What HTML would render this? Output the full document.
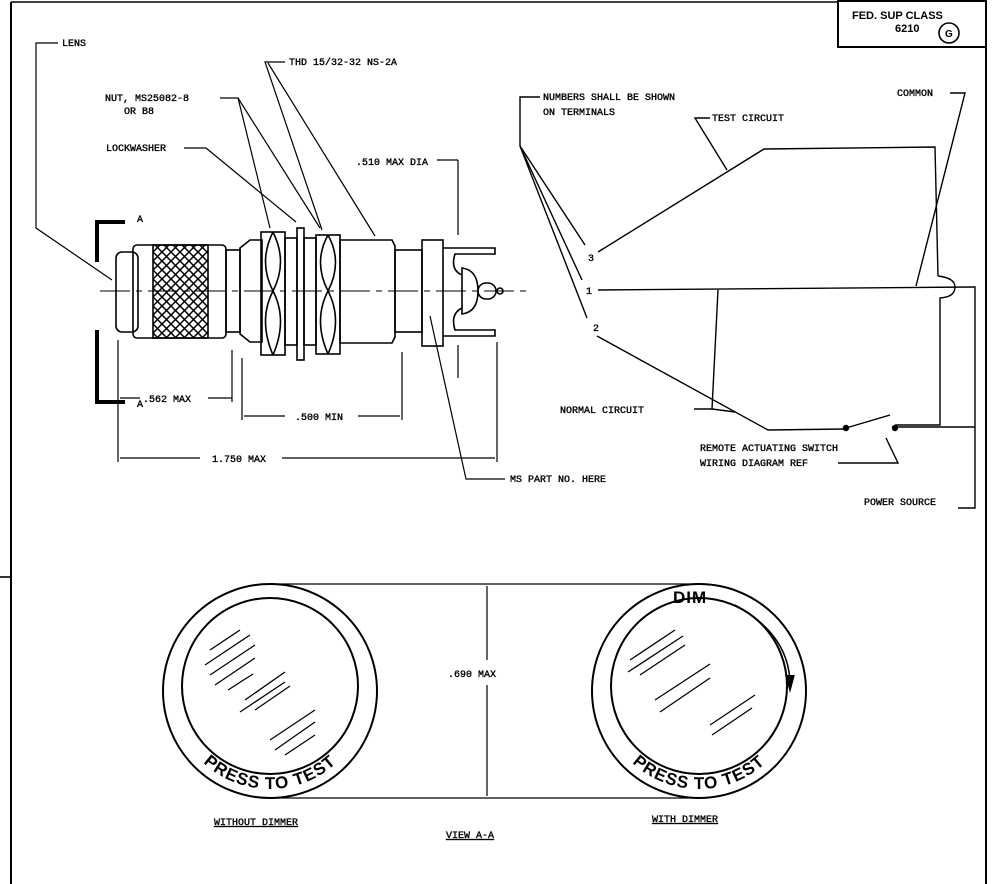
<!DOCTYPE html>
<html><head><style>
html,body{margin:0;padding:0;background:#fff}
svg{display:block}
text{font-family:"Liberation Mono",monospace;font-size:10px;fill:#000;stroke:#000;stroke-width:0.35}
.s{font-family:"Liberation Sans",sans-serif;font-size:17px;font-weight:bold;letter-spacing:1px;stroke:none}
</style></head><body>
<svg width="998" height="884" viewBox="0 0 998 884" xmlns="http://www.w3.org/2000/svg" fill="none" stroke="#000" stroke-width="1.6">
<defs>
<pattern id="knurl" width="9" height="9" patternUnits="userSpaceOnUse">
<path d="M0 0 L9 9 M9 0 L0 9" stroke="#000" stroke-width="1.5"/></pattern>
<path id="arcL" d="M172 691 A98 98 0 0 0 368 691"/>
<path id="arcR" d="M601 691 A98 98 0 0 0 797 691"/>
</defs>
<line x1="11" y1="2" x2="11" y2="884" stroke-width="2"/>
<line x1="11" y1="2" x2="838" y2="2" stroke-width="1.5"/>
<rect x="838" y="1" width="148" height="46" stroke-width="2"/>
<line x1="986" y1="47" x2="986" y2="884" stroke-width="2"/>
<text x="852" y="19" style="font-family:'Liberation Sans',sans-serif;font-size:11px;font-weight:bold;stroke:none">FED. SUP CLASS</text>
<text x="895" y="32" style="font-family:'Liberation Sans',sans-serif;font-size:11px;font-weight:bold;stroke:none">6210</text>
<circle cx="949" cy="33" r="10"/>
<text x="945" y="37" style="font-family:'Liberation Sans',sans-serif;font-size:10px;font-weight:bold;stroke:none">G</text>
<line x1="0" y1="577" x2="11" y2="577"/>

<line x1="100" y1="291" x2="530" y2="291" stroke-width="1" stroke-dasharray="30,6,6,6"/>
<path d="M97 262 V222 H125" stroke-width="4"/>
<path d="M97 330 V402 H125" stroke-width="4"/>
<text x="137" y="222">A</text><text x="137" y="407">A</text>
<rect x="116" y="252" width="22" height="80" rx="6"/>
<rect x="133" y="245" width="93" height="93" rx="4"/>
<rect x="153" y="245" width="55" height="93" fill="url(#knurl)"/>
<rect x="226" y="250" width="14" height="82"/>
<path d="M240 248 L250 240 H262 V342 H250 L240 334 Z"/>
<rect x="261" y="232" width="24" height="123"/>
<path d="M273 232 Q258 262 273 291 Q258 320 273 355 M273 232 Q288 262 273 291 Q288 320 273 355"/>
<rect x="285" y="238" width="12" height="107"/>
<rect x="297" y="228" width="7" height="132"/>
<rect x="304" y="238" width="12" height="107"/>
<rect x="316" y="235" width="24" height="119"/>
<path d="M328 235 Q313 262 328 291 Q313 320 328 354 M328 235 Q343 262 328 291 Q343 320 328 354"/>
<path d="M340 240 H392 L395 246 V337 L392 343 H340 Z"/>
<rect x="395" y="250" width="27" height="82"/>
<rect x="422" y="240" width="21" height="106"/>
<path d="M443 248 H495 V254 H455 Q450 270 462 275 M462 308 Q450 314 455 330 H495 V336 H443"/>
<path d="M462 268 Q478 270 478 291 Q478 312 462 314 Z"/>
<rect x="478" y="283" width="18" height="16" rx="8"/>
<circle cx="500" cy="291" r="3"/>
<g stroke-width="1.2">
<line x1="118" y1="340" x2="118" y2="462"/>
<line x1="232" y1="350" x2="232" y2="402"/>
<line x1="242" y1="358" x2="242" y2="420"/>
<line x1="402" y1="352" x2="402" y2="420"/>
<line x1="497" y1="342" x2="497" y2="462"/>
<line x1="458" y1="160" x2="458" y2="235"/>
<line x1="458" y1="345" x2="458" y2="378"/>
<line x1="437" y1="160" x2="458" y2="160"/>
<line x1="120" y1="398" x2="140" y2="398"/><line x1="208" y1="398" x2="232" y2="398"/>
<line x1="244" y1="416" x2="285" y2="416"/><line x1="358" y1="416" x2="400" y2="416"/>
<line x1="120" y1="458" x2="200" y2="458"/><line x1="282" y1="458" x2="495" y2="458"/>
<polyline points="58,43 36,43 36,228 112,280"/>
<polyline points="220,98 238,98 270,228"/>
<line x1="238" y1="98" x2="320" y2="228"/>
<polyline points="184,148 206,148 296,222"/>
<polyline points="285,62 265,62 322,230"/>
<line x1="268" y1="63" x2="375" y2="236"/>
<polyline points="505,479 466,479 430,316"/>
</g>
<text x="62" y="46">LENS</text>
<text x="105" y="101">NUT, MS25082-8</text>
<text x="124" y="114">OR B8</text>
<text x="106" y="151">LOCKWASHER</text>
<text x="289" y="65">THD 15/32-32 NS-2A</text>
<text x="356" y="165">.510 MAX DIA</text>
<text x="143" y="402">.562 MAX</text>
<text x="295" y="420">.500 MIN</text>
<text x="212" y="462">1.750 MAX</text>
<text x="510" y="482">MS PART NO. HERE</text>

<g stroke-width="1.4">
<polyline points="540,97 520,97 520,146"/>
<line x1="520" y1="146" x2="585" y2="245"/>
<line x1="520" y1="146" x2="582" y2="280"/>
<line x1="520" y1="146" x2="587" y2="318"/>
<polyline points="598,252 764,149 935,147 938,276"/>
<path d="M938 276 Q955 278 955 287 Q955 297 940 298 V425 H895"/>
<line x1="598" y1="290" x2="972" y2="287"/>
<polyline points="972,287 975,287 975,508 958,508"/>
<polyline points="597,336 768,430 845,429"/>
<line x1="846" y1="428" x2="890" y2="415"/>
<circle cx="846" cy="428" r="2.5" fill="#000"/>
<circle cx="895" cy="428" r="2.5" fill="#000"/>
<line x1="895" y1="427" x2="975" y2="427"/>
<polyline points="710,118 695,118 727,170"/>
<polyline points="950,93 965,93 916,286"/>
<polyline points="694,409 712,409 718,290"/>
<line x1="712" y1="409" x2="735" y2="412"/>
<polyline points="838,463 898,463 886,438"/>
</g>
<text x="543" y="100">NUMBERS SHALL BE SHOWN</text>
<text x="543" y="115">ON TERMINALS</text>
<text x="712" y="121">TEST CIRCUIT</text>
<text x="897" y="96">COMMON</text>
<text x="588" y="261">3</text>
<text x="586" y="294">1</text>
<text x="593" y="331">2</text>
<text x="560" y="413">NORMAL CIRCUIT</text>
<text x="700" y="451">REMOTE ACTUATING SWITCH</text>
<text x="700" y="466">WIRING DIAGRAM REF</text>
<text x="864" y="505">POWER SOURCE</text>

<circle cx="270" cy="691" r="107" stroke-width="2"/>
<circle cx="270" cy="686" r="88" stroke-width="2"/>
<circle cx="699" cy="691" r="107" stroke-width="2"/>
<circle cx="699" cy="686" r="88" stroke-width="2"/>
<line x1="270" y1="584" x2="699" y2="584" stroke-width="1.2"/>
<line x1="270" y1="798" x2="699" y2="798" stroke-width="1.2"/>
<line x1="487" y1="586" x2="487" y2="660" stroke-width="1.2"/>
<line x1="487" y1="685" x2="487" y2="796" stroke-width="1.2"/>
<text x="448" y="677">.690 MAX</text>
<g stroke-width="1.3">
<path d="M210 650 l30 -20 M205 665 l45 -30 M210 675 l45 -30 M215 685 l40 -27 M228 690 l25 -16"/>
<path d="M245 700 l40 -28 M240 712 l45 -30 M255 710 l35 -24"/>
<path d="M270 740 l45 -30 M275 750 l40 -28 M285 755 l30 -20"/>
<path d="M630 660 l45 -30 M628 672 l55 -36 M640 675 l45 -30"/>
<path d="M655 700 l55 -36 M660 712 l50 -34"/>
<path d="M710 725 l45 -30 M712 735 l40 -27"/>
</g>
<path d="M735 605 Q790 635 790 685" stroke-width="1.5"/>
<path d="M786 675 L790 690 L794 675" fill="#000"/>
<text x="673" y="603" class="s">DIM</text>
<text class="s" text-anchor="middle"><textPath href="#arcL" startOffset="50%">PRESS TO TEST</textPath></text>
<text class="s" text-anchor="middle"><textPath href="#arcR" startOffset="50%">PRESS TO TEST</textPath></text>
<text x="214" y="825" text-decoration="underline">WITHOUT DIMMER</text>
<text x="652" y="822" text-decoration="underline">WITH DIMMER</text>
<text x="446" y="838" text-decoration="underline">VIEW A-A</text>
</svg>
</body></html>
